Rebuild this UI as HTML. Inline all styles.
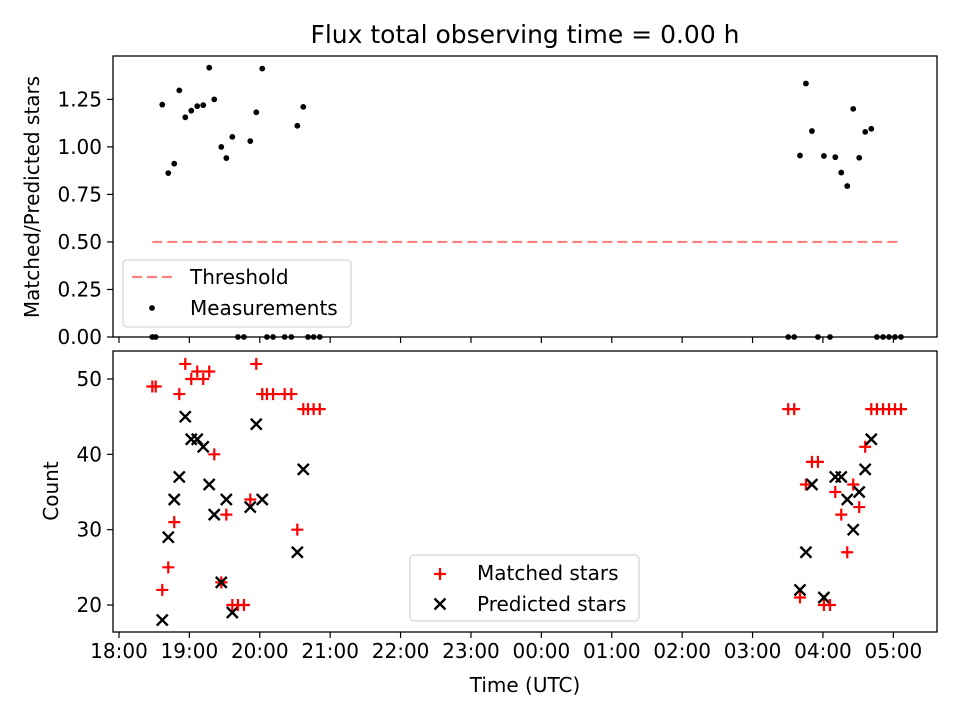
<!DOCTYPE html>
<html><head><meta charset="utf-8"><style>
html,body{margin:0;padding:0;background:#fff;}
svg text{font-family:"DejaVu Sans","Liberation Sans",sans-serif;}
</style></head><body>
<svg id="fig" width="960" height="720" viewBox="0 0 960 720" xmlns="http://www.w3.org/2000/svg">
<rect width="960" height="720" fill="#fff"/>
<text x="525" y="43" font-size="25" text-anchor="middle" fill="#000">Flux total observing time = 0.00 h</text>
<g id="topAx"></g>
<g id="botAx"></g>
</svg>
<script>
// minutes after 18:00 UTC
const times = [28.4,31.3,36.9,42.0,47.1,51.4,56.5,61.6,66.7,71.8,76.9,81.2,87.2,91.5,96.6,101.4,106.5,111.9,117.0,122.1,126.1,131.3,141.2,146.9,152.0,157.1,161.1,165.9,171.1,
  570.4,575.5,580.4,585.5,590.6,595.7,600.8,606.0,610.5,615.6,620.7,625.8,630.9,636.0,641.2,646.0,651.2,656.3,661.4,666.5];
const matched = [49,49,22,25,31,48,52,50,51,50,51,40,23,32,20,20,20,34,52,48,48,48,48,48,30,46,46,46,46,
  46,46,21,36,39,39,20,20,35,32,27,36,33,41,46,46,46,46,46,46];
const predicted = [null,null,18,29,34,37,45,42,42,41,36,32,23,34,19,null,null,33,44,34,null,null,null,null,27,38,null,null,null,
  null,null,22,27,36,null,21,null,37,37,34,30,35,38,42,null,null,null,null,null];
const ratioTicks = [0,0.25,0.5,0.75,1.0,1.25];
const countTicks = [20,30,40,50];
const timeTickLabels = ["18:00","19:00","20:00","21:00","22:00","23:00","00:00","01:00","02:00","03:00","04:00","05:00"];
const threshold = 0.5;

const NS="http://www.w3.org/2000/svg";
const L=113,R=937, T1=56,B1=337, T2=351,B2=632;
const xMin=-5.1,xMax=697.2;
const FS=20;
const x = m => L + (m-xMin)/(xMax-xMin)*(R-L);
const yR = v => B1 - (v-0)/(1.4781-0)*(B1-T1);
const yC = v => 379 + (50-v)*(226/30);
function el(tag,attrs,parent){const e=document.createElementNS(NS,tag);for(const k in attrs)e.setAttribute(k,attrs[k]);parent.appendChild(e);return e;}
const gTop=document.getElementById('topAx'), gBot=document.getElementById('botAx');

let tl=el('line',{x1:x(times[0]),x2:x(times[times.length-1]),y1:yR(threshold),y2:yR(threshold),stroke:'#ff8080','stroke-width':2.2,'stroke-dasharray':'10 5'},gTop);


times.forEach((t,i)=>{
  const r = predicted[i]? matched[i]/predicted[i] : 0;
  const c=el('circle',{cx:x(t),cy:yR(r),r:2.9,fill:'#000'},gTop);
  
  
});
times.forEach((t,i)=>{
  const px=x(t), py=yC(matched[i]), s=6;
  const p=el('path',{d:`M${px-s},${py}H${px+s}M${px},${py-s}V${py+s}`,stroke:'#ff0000','stroke-width':2.2,fill:'none'},gBot);
  
  
  if(predicted[i]!=null){
    const qy=yC(predicted[i]), q=5.5;
    const xm=el('path',{d:`M${px-q},${qy-q}L${px+q},${qy+q}M${px-q},${qy+q}L${px+q},${qy-q}`,stroke:'#000','stroke-width':2.4,fill:'none'},gBot);
    
    
  }
});
let f1=el('rect',{x:L,y:T1,width:R-L,height:B1-T1,fill:'none',stroke:'#000','stroke-width':1.3},gTop);


let f2=el('rect',{x:L,y:T2,width:R-L,height:B2-T2,fill:'none',stroke:'#000','stroke-width':1.3},gBot);


ratioTicks.forEach(v=>{
  const y=yR(v);
  el('line',{x1:L-6,x2:L,y1:y,y2:y,stroke:'#000','stroke-width':1.2},gTop);
  const t=el('text',{x:L-11,y:y+7,'font-size':FS,'text-anchor':'end'},gTop);
  t.textContent=v.toFixed(2);
  
  
});
countTicks.forEach(v=>{
  const y=yC(v);
  el('line',{x1:L-6,x2:L,y1:y,y2:y,stroke:'#000','stroke-width':1.2},gBot);
  const t=el('text',{x:L-11,y:y+7,'font-size':FS,'text-anchor':'end'},gBot);
  t.textContent=v;
  
  
});
timeTickLabels.forEach((lab,i)=>{
  const px=x(i*60);
  el('line',{x1:px,x2:px,y1:B1,y2:B1+6,stroke:'#000','stroke-width':1.2},gTop);
  el('line',{x1:px,x2:px,y1:B2,y2:B2+6,stroke:'#000','stroke-width':1.2},gBot);
  const t=el('text',{x:px,y:B2+26,'font-size':FS,'text-anchor':'middle'},gBot);
  t.textContent=lab;
  
  
});
let a1=el('text',{x:0,y:0,'font-size':FS,'text-anchor':'middle',transform:'translate(39,197) rotate(-90)'},gTop);
a1.textContent='Matched/Predicted stars';


let a2=el('text',{x:0,y:0,'font-size':FS,'text-anchor':'middle',transform:'translate(58,491) rotate(-90)'},gBot);
a2.textContent='Count';


let a3=el('text',{x:525,y:692,'font-size':FS,'text-anchor':'middle'},gBot);
a3.textContent='Time (UTC)';


let lg1=el('g',{},gTop);


el('rect',{x:123,y:260,width:228,height:67,rx:4,fill:'#fff','fill-opacity':0.8,stroke:'#ccc','stroke-width':1},lg1);
el('line',{x1:132,x2:173,y1:277,y2:277,stroke:'#ff8080','stroke-width':2.2,'stroke-dasharray':'10 5'},lg1);
el('circle',{cx:152,cy:308,r:2.9,fill:'#000'},lg1);
let lt=el('text',{x:190,y:284,'font-size':FS},lg1); lt.textContent='Threshold';


lt=el('text',{x:190,y:315,'font-size':FS},lg1); lt.textContent='Measurements';


let lg2=el('g',{},gBot);


el('rect',{x:410,y:555,width:229,height:66,rx:4,fill:'#fff','fill-opacity':0.8,stroke:'#ccc','stroke-width':1},lg2);
el('path',{d:'M434,574H446M440,568V580',stroke:'#ff0000','stroke-width':2.2},lg2);
el('path',{d:'M434.5,598.5L445.5,609.5M434.5,609.5L445.5,598.5',stroke:'#000','stroke-width':2.4},lg2);
lt=el('text',{x:477,y:580,'font-size':FS},lg2); lt.textContent='Matched stars';


lt=el('text',{x:477,y:611,'font-size':FS},lg2); lt.textContent='Predicted stars';


</script>
</body></html>
